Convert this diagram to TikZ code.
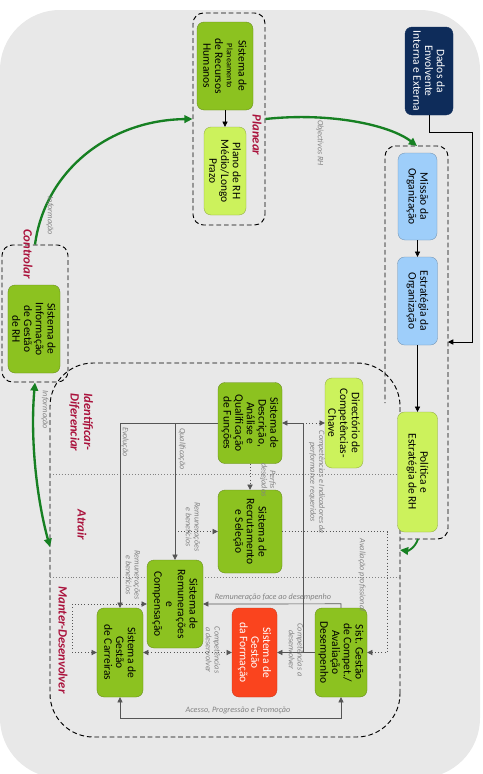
\documentclass[tikz,border=0pt]{standalone}
\usepackage{fontspec}
\setmainfont{Carlito}
\usetikzlibrary{arrows.meta,positioning}

\definecolor{boxgreen}{RGB}{140,194,32}
\definecolor{lightgreen}{RGB}{204,242,92}
\definecolor{boxblue}{RGB}{158,206,250}
\definecolor{navy}{RGB}{14,44,90}
\definecolor{boxred}{RGB}{250,68,30}
\definecolor{phasered}{RGB}{170,18,60}
\definecolor{cyclegreen}{RGB}{22,128,34}
\definecolor{bggray}{RGB}{232,232,232}
\definecolor{linegray}{RGB}{85,85,85}
\definecolor{labelgray}{RGB}{130,130,130}

\tikzset{
  sysbox/.style={draw=boxgreen!70!black, line width=.3pt, fill=boxgreen, rounded corners=6pt,
    align=center, inner sep=1pt, font=\fontsize{9.8}{10}\selectfont},
  planbox/.style={sysbox, fill=lightgreen, draw=lightgreen!70!black},
  orgbox/.style={sysbox, fill=boxblue, draw=boxblue!70!black},
  group/.style={draw, dash pattern=on 4pt off 2.5pt, line width=.8pt, rounded corners=9pt},
  groupline/.style={draw, dash pattern=on 4pt off 2.5pt, line width=.8pt, rounded corners=9pt},
  sepline/.style={draw=labelgray, dotted, line width=.5pt},
  link/.style={draw=linegray, line width=.6pt},
  dotlink/.style={draw=linegray, dotted, line width=.7pt},
  cycle/.style={draw=cyclegreen, line width=2pt, -{Triangle[length=7pt,width=6.5pt]}},
  lbl/.style={text=labelgray, font=\fontsize{7}{7.4}\selectfont\itshape, inner sep=1pt},
  phase/.style={text=phasered, font=\fontsize{10.8}{11.5}\selectfont\bfseries\itshape, inner sep=1pt}
}

\begin{document}
\begin{tikzpicture}[x=0.03cm, y=0.03cm, rotate=-90, transform shape,
    >={Triangle[length=4.5pt,width=4.5pt]}]
  \useasboundingbox (0,0) rectangle (774,483);
  \fill[bggray, rounded corners=1.8cm] (10,0) rectangle (778,480);

  % grupos
  \node (grpplan) [group, minimum width=6.36cm, minimum height=2.16cm] at (119,229) {};
  \node (grpctrl) [group, minimum width=4.11cm, minimum height=1.98cm] at (313.5,35) {};
  \node (grpid) [group, rounded corners=1.3cm, minimum width=11.22cm, minimum height=10.5cm] at (550,225) {};
  \draw[groupline] (539,400) -- (539,448) -- (146,448) -- (146,385) -- (403,385);
  \draw[sepline] (474,50) -- (474,400);
  \draw[sepline] (577,50) -- (577,400);

  % caixas
  \node (dados) [sysbox, fill=navy, draw=navy, text=white, minimum width=2.64cm, minimum height=1.44cm] at (71,429) {Dados da\\Envolvente\\Interna e Externa};
  \node (planeam) [sysbox, minimum width=2.64cm, minimum height=1.68cm] at (66,225) {Sistema de\\{\fontsize{7}{7.4}\selectfont Planeamento}\\de Recursos\\Humanos};
  \node (planorh) [planbox, minimum width=2.64cm, minimum height=1.26cm] at (171,225) {Plano de RH\\Médio/Longo\\Prazo};
  \node (missao) [orgbox, minimum width=2.61cm, minimum height=1.17cm] at (196.5,417.5) {Missão da\\Organização};
  \node (estrat) [orgbox, minimum width=2.64cm, minimum height=1.2cm] at (301,417.5) {Estratégia da\\Organização};
  \node (politica) [planbox, minimum width=3.6cm, minimum height=1.2cm] at (472,417.5) {Política e\\Estratégia de RH};
  \node (siginfo) [sysbox, minimum width=2.64cm, minimum height=1.56cm] at (329,34) {Sistema de\\Informação\\de Gestão\\de RH};
  \node (directorio) [planbox, minimum width=2.7cm, minimum height=1.14cm] at (423,344) {Directório de\\Competências-\\Chave};
  \node (descricao) [sysbox, minimum width=2.43cm, minimum height=1.92cm] at (423,250) {Sistema de\\Descrição,\\Análise e\\Qualificação\\de Funções};
  \node (recrut) [sysbox, minimum width=2.49cm, minimum height=1.92cm] at (531.5,250) {Sistema de\\Recrutamento\\e Seleção};
  \node (remun) [sysbox, minimum width=2.64cm, minimum height=1.68cm] at (604,175) {Sistema de\\Remunerações\\e\\Compensação};
  \node (carreiras) [sysbox, minimum width=2.67cm, minimum height=1.38cm] at (652.5,120) {Sistema de\\Gestão\\de Carreiras};
  \node (formacao) [sysbox, fill=boxred, draw=boxred!80!black, text=white, minimum width=2.67cm, minimum height=1.35cm] at (652.5,254.5) {Sistema de\\Gestão\\da Formação};
  \node (compet) [sysbox, minimum width=2.67cm, minimum height=1.56cm] at (652.5,341) {Sist. Gestão\\de Compet./\\Avaliação\\Desempenho};

  % fases
  \node (pplan) [phase] at (135,257) {Planear};
  \node (pctrl) [phase] at (254,28) {Controlar};
  \node (pident) [phase, align=left, anchor=west] at (392,81) {Identificar-\\Diferenciar};
  \node (patr) [phase] at (525,82) {Atrair};
  \node (pmant) [phase] at (640,63) {Manter-Desenvolver};

  % ciclo
  \coordinate (mright) at (342,448);
  \coordinate (mtop) at (146,417);
  \coordinate (mbottom) at (539,418);
  \coordinate (idleft) at (547,50);
  \coordinate (idright) at (550,400);
  \draw[->, line width=.6pt] (dados.east) -- ++(17,0) -- ++(0,43) -| (mright);
  \draw[cycle] (grpplan.north) .. controls (112,330) and (125,390) .. (mtop);
  \draw[cycle] (grpctrl.west) .. controls (170,45) and (120,110) .. (grpplan.south);
  \draw[cycle, {Triangle[length=7pt,width=6.5pt]}-{Triangle[length=7pt,width=6.5pt]}] (grpctrl.east) .. controls (440,30) and (500,37) .. (idleft);
  \draw[cycle, line width=1.6pt] (mbottom) .. controls (548,415) and (551,408) .. (idright);

  \draw[->, line width=.6pt] (planeam.east) -- (planorh.west);
  \draw[->, line width=.6pt] (missao.east) -- (estrat.west);
  \draw[->, line width=.6pt] (estrat.east) -- (politica.west);

  % ligacoes
  \coordinate (jcomp) at (423,303);
  \coordinate (jform) at (652.5,303);
  \draw[link, <-] (descricao.north) -- (jcomp);
  \draw[dotlink, ->] (jcomp) -- (directorio.south);
  \draw[link] (jcomp) -- (jform);
  \draw[link, ->] (compet.south) -- (formacao.north);
  \draw[dotlink, ->] (descricao.east) -- (recrut.west);
  \draw[link, ->] (descricao.south) |- (remun.west);
  \draw[link, ->] (descricao.south) |- (carreiras.west);
  \draw[dotlink, ->] (recrut.south |- remun.west) -- (recrut.south);
  \draw[dotlink, <->] (carreiras.south) -- ++(0,-24) -| (remun.south);
  \draw[dotlink, <->] (carreiras.north) -- (formacao.south);
  \draw[link, ->] (compet.west) -- ++(-4,0) -- (remun.north);
  \draw[link, <->] (carreiras.east) -- ++(21,0) |- (compet.east);
  \draw[dotlink, ->] (recrut.north) -- ++(0,105) -| (compet.north);

  % rotulos
  \node (lobj) [lbl] at (143,320) {Objectivos RH};
  \node (linf1) [lbl] at (216,50) {Informação};
  \node (linf2) [lbl] at (410,45) {Informação};
  \node (lcomp) [lbl, align=center] at (482,317) {Competências e Indicadores de\\performance requeridos};
  \node (lperf) [lbl, align=center] at (480,268) {Perfis\\desejados};
  \node (lqual) [lbl] at (449,182) {Qualificação};
  \node (levol) [lbl] at (442,125) {Evolução};
  \node (lrem1) [lbl, align=center] at (527,193) {Remunerações\\e benefícios};
  \node (lrem2) [lbl, align=center] at (575,133) {Remunerações\\e benefícios};
  \node (ldes1) [lbl, align=center] at (650,296) {Competências a\\desenvolver};
  \node (ldes2) [lbl, align=center] at (650,213) {Competências\\a desenvolver};
  \node (lrface) [lbl, rotate=90] at (597,273) {Remuneração face ao desempenho};
  \node (lacesso) [lbl, rotate=90] at (710,238) {Acesso, Progressão e Promoção};
  \node (laval) [lbl] at (575,362) {Avaliação profissional};
\end{tikzpicture}
\end{document}
